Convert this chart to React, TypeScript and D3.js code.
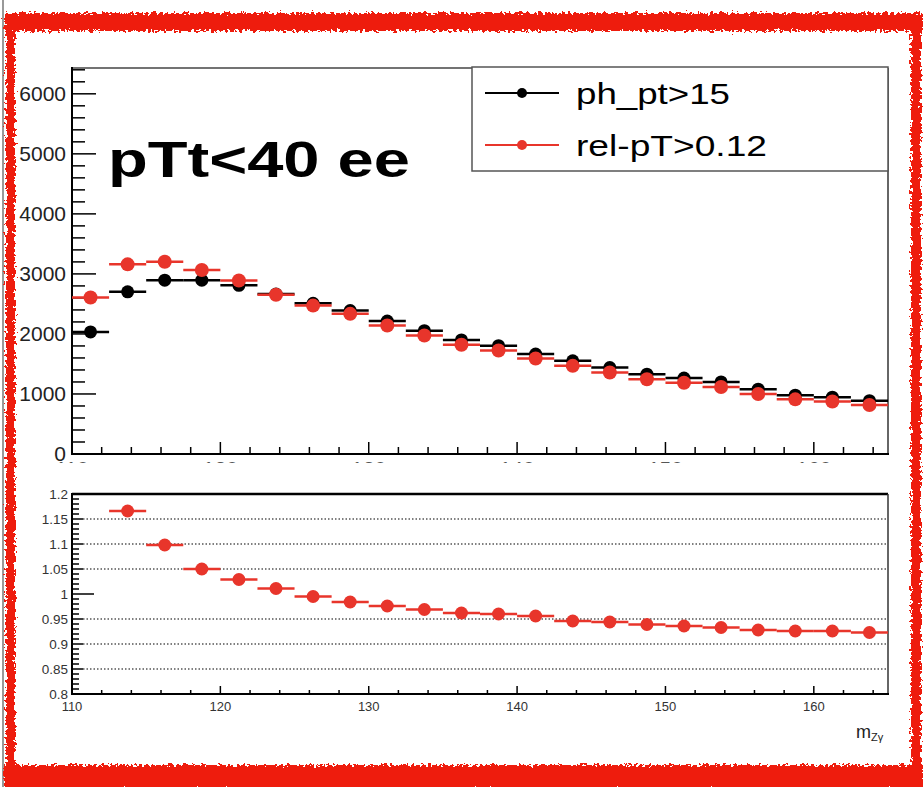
import React from 'react';
import * as d3 from 'd3';

// ---- data ----
const binCenters = [111.25, 113.75, 116.25, 118.75, 121.25, 123.75, 126.25, 128.75, 131.25, 133.75, 136.25, 138.75, 141.25, 143.75, 146.25, 148.75, 151.25, 153.75, 156.25, 158.75, 161.25, 163.75];
const binHalfWidth = 1.25;
const phPt15 = [2033, 2701, 2896, 2896, 2810, 2665, 2510, 2390, 2215, 2055, 1900, 1805, 1665, 1553, 1440, 1330, 1264, 1200, 1080, 980, 946, 888];
const relPt012 = [2607, 3159, 3203, 3064, 2890, 2652, 2472, 2335, 2140, 1975, 1820, 1725, 1590, 1468, 1358, 1246, 1187, 1115, 1000, 910, 874, 815];
const ratioCenters = [113.75, 116.25, 118.75, 121.25, 123.75, 126.25, 128.75, 131.25, 133.75, 136.25, 138.75, 141.25, 143.75, 146.25, 148.75, 151.25, 153.75, 156.25, 158.75, 161.25, 163.75];
const ratioValues = [1.166, 1.098, 1.05, 1.029, 1.011, 0.995, 0.984, 0.976, 0.969, 0.962, 0.96, 0.956, 0.946, 0.944, 0.939, 0.936, 0.933, 0.928, 0.926, 0.926, 0.923];
const topYTicks = [0, 1000, 2000, 3000, 4000, 5000, 6000];
const ratioYTicks = [0.8, 0.85, 0.9, 0.95, 1, 1.05, 1.1, 1.15, 1.2];
const ratioYTickLabels = ['0.8', '0.85', '0.9', '0.95', '1', '1.05', '1.1', '1.15', '1.2'];
const ratioGridLines = [0.85, 0.9, 0.95, 1.05, 1.1, 1.15];
const xTicks = [110, 120, 130, 140, 150, 160];
const seriesNames = ['ph_pt>15', 'rel-pT>0.12'];
const titleText = 'pTt<40 ee';

const RED = '#e8352b';
const FONT = '"Liberation Sans", Arial, Helvetica, sans-serif';

export default function App() {
  const L = 72, R = 888;
  const x = d3.scaleLinear().domain([110, 165]).range([L, R]);
  const yTop = d3.scaleLinear().domain([0, 6430]).range([454, 68]);
  const yBot = d3.scaleLinear().domain([0.8, 1.2]).range([694, 494]);

  const xMinor = d3.range(110, 165.01, 2);
  const topMinor = d3.range(0, 6401, 200);
  const botMinor = d3.range(0.8, 1.2001, 0.01);

  const drawSeries = (vals: number[], color: string, r: number, key: string) => (
    <g key={key}>
      {binCenters.map((c, i) => (
        <line key={'l' + i} x1={x(c - binHalfWidth)} x2={x(c + binHalfWidth)} y1={yTop(vals[i])} y2={yTop(vals[i])} stroke={color} strokeWidth={2.5} />
      ))}
      {binCenters.map((c, i) => (
        <circle key={'c' + i} cx={x(c)} cy={yTop(vals[i])} r={r} fill={color} />
      ))}
    </g>
  );

  return (
    <svg width={923} height={787} style={{ position: 'absolute', left: 0, top: 0, background: '#fff' }} fontFamily={FONT}>
      <defs>
        <filter id="rough" x="-5%" y="-5%" width="110%" height="110%">
          <feTurbulence type="fractalNoise" baseFrequency="0.35" numOctaves={2} seed={3} result="n" />
          <feDisplacementMap in="SourceGraphic" in2="n" scale={9} xChannelSelector="R" yChannelSelector="G" />
        </filter>
        <clipPath id="topLabClip">
          <rect x={0} y={456} width={923} height={7} />
        </clipPath>
      </defs>
      <rect x={0} y={0} width={923} height={787} fill="#fff" />

      {/* ===== top panel ===== */}
      <line x1={L} x2={R} y1={68} y2={68} stroke="#444" strokeWidth={1.5} />
      <line x1={R} x2={R} y1={68} y2={454} stroke="#333" strokeWidth={1.5} />
      <line x1={L} x2={L} y1={67} y2={455} stroke="#000" strokeWidth={2} />
      <line x1={L - 1} x2={R + 1} y1={454} y2={454} stroke="#000" strokeWidth={2} />
      {topMinor.map(v => (
        <line key={'tm' + v} x1={L} x2={L + (v % 1000 === 0 ? 24 : 13)} y1={yTop(v)} y2={yTop(v)} stroke="#000" strokeWidth={1.5} />
      ))}
      {topYTicks.map(v => (
        <text key={'tl' + v} x={66} y={yTop(v) + 7} fontSize={21} textAnchor="end" fill="#222">{v}</text>
      ))}
      {xMinor.map(v => (
        <line key={'txm' + v} x1={x(v)} x2={x(v)} y1={454} y2={454 - (v % 10 === 0 ? 12 : 7)} stroke="#000" strokeWidth={1.5} />
      ))}
      <g clipPath="url(#topLabClip)">
        {xTicks.map(v => (
          <text key={'txl' + v} x={x(v)} y={476} fontSize={21} textAnchor="middle" fill="#555">{v}</text>
        ))}
      </g>

      {drawSeries(phPt15, '#000', 6.5, 'black')}
      {drawSeries(relPt012, RED, 7, 'red')}

      <text x={108} y={177} fontSize={50} fontWeight="bold" fill="#000" textLength={302} lengthAdjust="spacingAndGlyphs">{titleText}</text>

      {/* legend */}
      <rect x={472} y={67} width={416} height={104} fill="#fff" stroke="#555" strokeWidth={1.5} />
      <line x1={485} x2={559} y1={93} y2={93} stroke="#000" strokeWidth={2} />
      <circle cx={522} cy={93} r={5} fill="#000" />
      <text x={576} y={104} fontSize={29} fill="#000" textLength={154} lengthAdjust="spacingAndGlyphs">{seriesNames[0]}</text>
      <line x1={485} x2={559} y1={145} y2={145} stroke={RED} strokeWidth={2} />
      <circle cx={522} cy={145} r={5} fill={RED} />
      <text x={576} y={156} fontSize={29} fill="#000" textLength={191} lengthAdjust="spacingAndGlyphs">{seriesNames[1]}</text>

      {/* ===== bottom panel ===== */}
      {ratioGridLines.map(v => (
        <line key={'g' + v} x1={L + 11} x2={R} y1={yBot(v)} y2={yBot(v)} stroke="#555" strokeWidth={1.5} strokeDasharray="1.5,2" />
      ))}
      <line x1={L} x2={R} y1={494} y2={494} stroke="#000" strokeWidth={2.5} />
      <line x1={R} x2={R} y1={494} y2={694} stroke="#333" strokeWidth={1.5} />
      <line x1={L} x2={L} y1={493} y2={695} stroke="#000" strokeWidth={2} />
      <line x1={L - 1} x2={R + 1} y1={694} y2={694} stroke="#000" strokeWidth={2} />
      {botMinor.map((v, i) => {
        const major = i % 5 === 0;
        const len = Math.abs(v - 1) < 1e-6 ? 22 : major ? 11 : 7;
        return <line key={'bm' + i} x1={L} x2={L + len} y1={yBot(v)} y2={yBot(v)} stroke="#000" strokeWidth={1.5} />;
      })}
      {ratioYTicks.map((v, i) => (
        <text key={'bl' + i} x={68} y={yBot(v) + 5} fontSize={13.5} textAnchor="end" fill="#333">{ratioYTickLabels[i]}</text>
      ))}
      {xMinor.map(v => (
        <line key={'bxm' + v} x1={x(v)} x2={x(v)} y1={694} y2={694 - (v % 10 === 0 ? 8 : 4)} stroke="#000" strokeWidth={1.5} />
      ))}
      {xTicks.map(v => (
        <text key={'bxl' + v} x={x(v)} y={711} fontSize={13} textAnchor="middle" fill="#333">{v}</text>
      ))}
      <text x={856} y={738} fontSize={18} fill="#222">m<tspan fontSize={11} dy={3}>Zγ</tspan></text>

      {ratioCenters.map((c, i) => (
        <line key={'rl' + i} x1={x(c - binHalfWidth)} x2={x(c + binHalfWidth)} y1={yBot(ratioValues[i])} y2={yBot(ratioValues[i])} stroke={RED} strokeWidth={2.5} />
      ))}
      {ratioCenters.map((c, i) => (
        <circle key={'rc' + i} cx={x(c)} cy={yBot(ratioValues[i])} r={6.5} fill={RED} />
      ))}

      {/* ===== rough red frame ===== */}
      <line x1={3} x2={3} y1={0} y2={787} stroke="#777" strokeWidth={1.5} />
      <g filter="url(#rough)" fill="#ee1f0e">
        <rect x={4} y={13} width={919} height={18} />
        <rect x={4} y={765} width={919} height={24} />
        <rect x={6} y={13} width={9} height={776} />
        <rect x={911} y={13} width={10} height={776} />
      </g>
    </svg>
  );
}
